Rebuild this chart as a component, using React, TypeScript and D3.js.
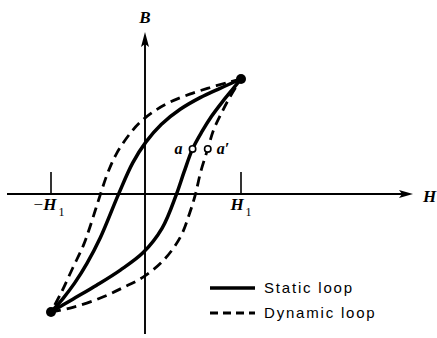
import * as d3 from "d3";

// branches of the loops, H in units of H1, B in units of B at the tip
const staticUpper: [number, number][] = [
  [1, 1], [0.78, 0.92], [0.57, 0.84], [0.36, 0.74], [0.16, 0.61], [0.0, 0.46],
  [-0.14, 0.28], [-0.29, 0.01], [-0.48, -0.36], [-0.62, -0.58], [-0.75, -0.75], [-0.87, -0.88], [-1, -1],
];
const staticLower: [number, number][] = [
  [-1, -1], [-0.77, -0.89], [-0.52, -0.77], [-0.27, -0.64], [-0.03, -0.49], [0.17, -0.28],
  [0.32, 0.01], [0.4, 0.2], [0.49, 0.4], [0.59, 0.55], [0.69, 0.68], [0.8, 0.8], [0.9, 0.9], [1, 1],
];
const dynamicUpper: [number, number][] = [
  [1, 1], [0.88, 0.975], [0.67, 0.925], [0.46, 0.87], [0.25, 0.8], [0.08, 0.72], [-0.06, 0.63],
  [-0.17, 0.53], [-0.31, 0.36], [-0.4, 0.2], [-0.48, 0.01], [-0.59, -0.27], [-0.66, -0.43],
  [-0.77, -0.62], [-0.89, -0.83], [-1, -1],
];
const dynamicLower: [number, number][] = [
  [-1, -1], [-0.77, -0.96], [-0.48, -0.88], [-0.24, -0.79], [-0.03, -0.7], [0.18, -0.56],
  [0.36, -0.36], [0.46, -0.15], [0.52, 0.01], [0.575, 0.2], [0.65, 0.4], [0.71, 0.56],
  [0.79, 0.7], [0.88, 0.84], [1, 1],
];
const tipPoints: [number, number][] = [[1, 1], [-1, -1]];
const markers = [
  { label: "a", h: 0.49, b: 0.4, side: "left" },
  { label: "a\u2032", h: 0.65, b: 0.4, side: "right" },
];
const tickValues = [-1, 1];
const legendItems = ["Static loop", "Dynamic loop"];

export default function App() {
  const W = 437;
  const H = 338;
  const x = d3.scaleLinear().domain([-1, 1]).range([51, 241]);
  const y = d3.scaleLinear().domain([-1, 1]).range([312, 79]);

  const line = d3
    .line<[number, number]>()
    .x((d) => x(d[0]))
    .y((d) => y(d[1]))
    .curve(d3.curveCatmullRom.alpha(0.5));

  const x0 = x(0) - 1;
  const y0 = 194;
  const serif = "'Liberation Serif', 'DejaVu Serif', serif";
  const sans = "'Liberation Sans', Arial, sans-serif";

  return (
    <svg width={W} height={H} style={{ position: "absolute", left: 0, top: 0, background: "#fff" }}>
      {/* axes */}
      <line x1={7} x2={405} y1={y0} y2={y0} stroke="#000" strokeWidth={1.9} />
      <path d={`M413,${y0} L399,${y0 - 4} L402,${y0} L399,${y0 + 4} Z`} fill="#000" />
      <line x1={x0} x2={x0} y1={42} y2={334} stroke="#000" strokeWidth={1.9} />
      <path d={`M${x0},32 L${x0 - 4},47 L${x0},44 L${x0 + 4},47 Z`} fill="#000" />

      {tickValues.map((t) => (
        <g key={t}>
          <line x1={x(t)} x2={x(t)} y1={172} y2={y0} stroke="#000" strokeWidth={1.6} />
          <text x={x(t) + (t < 0 ? -2 : 0)} y={210} textAnchor="middle" fontFamily={serif} fontSize={17}>
            {t < 0 ? <tspan fontStyle="normal">{"\u2212"}</tspan> : null}
            <tspan fontStyle="italic" fontWeight="bold">H</tspan>
            <tspan fontSize={12} dy={6} dx={2}>1</tspan>
          </text>
        </g>
      ))}
      <text x={x0} y={23} textAnchor="middle" fontFamily={serif} fontSize={17} fontStyle="italic" fontWeight="bold">B</text>
      <text x={423} y={202} fontFamily={serif} fontSize={17} fontStyle="italic" fontWeight="bold">H</text>

      {/* loops */}
      <path d={line(dynamicUpper) ?? ""} fill="none" stroke="#000" strokeWidth={2.8} strokeDasharray="10,6" />
      <path d={line(dynamicLower) ?? ""} fill="none" stroke="#000" strokeWidth={2.8} strokeDasharray="10,6" />
      <path d={line(staticUpper) ?? ""} fill="none" stroke="#000" strokeWidth={3.5} />
      <path d={line(staticLower) ?? ""} fill="none" stroke="#000" strokeWidth={3.5} />
      {tipPoints.map((p, i) => (
        <circle key={i} cx={x(p[0])} cy={y(p[1])} r={5} fill="#000" />
      ))}

      {markers.map((m) => (
        <g key={m.label}>
          <circle cx={x(m.h)} cy={y(m.b)} r={3.2} fill="#fff" stroke="#000" strokeWidth={1.6} />
          <text
            x={m.side === "left" ? x(m.h) - 10 : x(m.h) + 9}
            y={y(m.b) + 5}
            textAnchor={m.side === "left" ? "end" : "start"}
            fontFamily={serif}
            fontSize={16}
            fontStyle="italic"
            fontWeight="bold"
          >
            {m.label}
          </text>
        </g>
      ))}

      {/* legend */}
      {legendItems.map((label, i) => (
        <g key={label} transform={`translate(210, ${288 + i * 25})`}>
          <line
            x1={0}
            x2={45}
            y1={0}
            y2={0}
            stroke="#000"
            strokeWidth={i === 0 ? 3.5 : 2.8}
            strokeDasharray={i === 0 ? undefined : "8,5"}
          />
          <text x={54} y={5} fontFamily={sans} fontSize={15} letterSpacing={1.8}>
            {label}
          </text>
        </g>
      ))}
    </svg>
  );
}
